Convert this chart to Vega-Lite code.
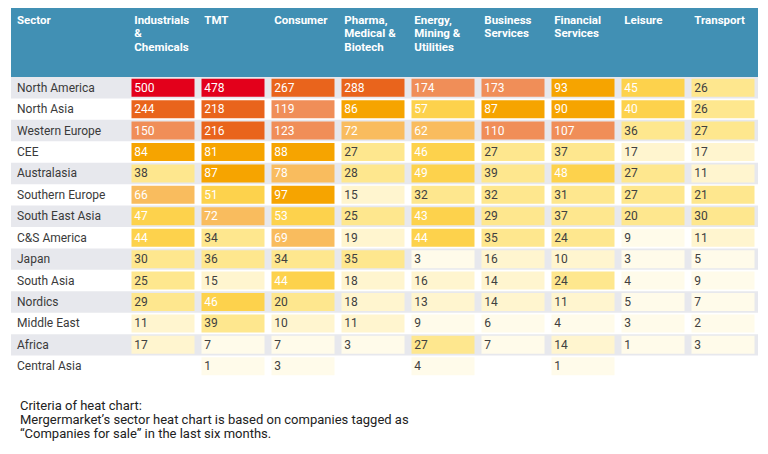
{
  "$schema": "https://vega.github.io/schema/vega-lite/v6.json",
  "padding": {"left": 11, "top": 8, "right": 0, "bottom": 0},
  "background": "white",
  "config": {"view": {"stroke": null}, "font": "Roboto", "concat": {"spacing": 0}},
  "title": {
    "text": ["Criteria of heat chart:", "Mergermarket’s sector heat chart is based on companies tagged as", "“Companies for sale” in the last six months."],
    "orient": "bottom", "anchor": "start", "fontSize": 13, "fontWeight": "normal", "color": "#222222",
    "lineHeight": 14, "offset": 23, "dx": 9, "font": "Roboto"
  },
  "datasets": {
    "sectors": [
      {"sector": "Industrials & Chemicals", "title": "Industrials\n&\nChemicals"},
      {"sector": "TMT", "title": "TMT"},
      {"sector": "Consumer", "title": "Consumer"},
      {"sector": "Pharma, Medical & Biotech", "title": "Pharma,\nMedical &\nBiotech"},
      {"sector": "Energy, Mining & Utilities", "title": "Energy,\nMining &\nUtilities"},
      {"sector": "Business Services", "title": "Business\nServices"},
      {"sector": "Financial Services", "title": "Financial\nServices"},
      {"sector": "Leisure", "title": "Leisure"},
      {"sector": "Transport", "title": "Transport"}
    ],
    "regions": [
      {"region": "North America"}, {"region": "North Asia"}, {"region": "Western Europe"}, {"region": "CEE"},
      {"region": "Australasia"}, {"region": "Southern Europe"}, {"region": "South East Asia"}, {"region": "C&S America"},
      {"region": "Japan"}, {"region": "South Asia"}, {"region": "Nordics"}, {"region": "Middle East"},
      {"region": "Africa"}, {"region": "Central Asia"}
    ],
    "cells": [
      {"region": "North America", "sector": "Industrials & Chemicals", "v": 500},
      {"region": "North America", "sector": "TMT", "v": 478},
      {"region": "North America", "sector": "Consumer", "v": 267},
      {"region": "North America", "sector": "Pharma, Medical & Biotech", "v": 288},
      {"region": "North America", "sector": "Energy, Mining & Utilities", "v": 174},
      {"region": "North America", "sector": "Business Services", "v": 173},
      {"region": "North America", "sector": "Financial Services", "v": 93},
      {"region": "North America", "sector": "Leisure", "v": 45},
      {"region": "North America", "sector": "Transport", "v": 26},
      {"region": "North Asia", "sector": "Industrials & Chemicals", "v": 244},
      {"region": "North Asia", "sector": "TMT", "v": 218},
      {"region": "North Asia", "sector": "Consumer", "v": 119},
      {"region": "North Asia", "sector": "Pharma, Medical & Biotech", "v": 86},
      {"region": "North Asia", "sector": "Energy, Mining & Utilities", "v": 57},
      {"region": "North Asia", "sector": "Business Services", "v": 87},
      {"region": "North Asia", "sector": "Financial Services", "v": 90},
      {"region": "North Asia", "sector": "Leisure", "v": 40},
      {"region": "North Asia", "sector": "Transport", "v": 26},
      {"region": "Western Europe", "sector": "Industrials & Chemicals", "v": 150},
      {"region": "Western Europe", "sector": "TMT", "v": 216},
      {"region": "Western Europe", "sector": "Consumer", "v": 123},
      {"region": "Western Europe", "sector": "Pharma, Medical & Biotech", "v": 72},
      {"region": "Western Europe", "sector": "Energy, Mining & Utilities", "v": 62},
      {"region": "Western Europe", "sector": "Business Services", "v": 110},
      {"region": "Western Europe", "sector": "Financial Services", "v": 107},
      {"region": "Western Europe", "sector": "Leisure", "v": 36},
      {"region": "Western Europe", "sector": "Transport", "v": 27},
      {"region": "CEE", "sector": "Industrials & Chemicals", "v": 84},
      {"region": "CEE", "sector": "TMT", "v": 81},
      {"region": "CEE", "sector": "Consumer", "v": 88},
      {"region": "CEE", "sector": "Pharma, Medical & Biotech", "v": 27},
      {"region": "CEE", "sector": "Energy, Mining & Utilities", "v": 46},
      {"region": "CEE", "sector": "Business Services", "v": 27},
      {"region": "CEE", "sector": "Financial Services", "v": 37},
      {"region": "CEE", "sector": "Leisure", "v": 17},
      {"region": "CEE", "sector": "Transport", "v": 17},
      {"region": "Australasia", "sector": "Industrials & Chemicals", "v": 38},
      {"region": "Australasia", "sector": "TMT", "v": 87},
      {"region": "Australasia", "sector": "Consumer", "v": 78},
      {"region": "Australasia", "sector": "Pharma, Medical & Biotech", "v": 28},
      {"region": "Australasia", "sector": "Energy, Mining & Utilities", "v": 49},
      {"region": "Australasia", "sector": "Business Services", "v": 39},
      {"region": "Australasia", "sector": "Financial Services", "v": 48},
      {"region": "Australasia", "sector": "Leisure", "v": 27},
      {"region": "Australasia", "sector": "Transport", "v": 11},
      {"region": "Southern Europe", "sector": "Industrials & Chemicals", "v": 66},
      {"region": "Southern Europe", "sector": "TMT", "v": 51},
      {"region": "Southern Europe", "sector": "Consumer", "v": 97},
      {"region": "Southern Europe", "sector": "Pharma, Medical & Biotech", "v": 15},
      {"region": "Southern Europe", "sector": "Energy, Mining & Utilities", "v": 32},
      {"region": "Southern Europe", "sector": "Business Services", "v": 32},
      {"region": "Southern Europe", "sector": "Financial Services", "v": 31},
      {"region": "Southern Europe", "sector": "Leisure", "v": 27},
      {"region": "Southern Europe", "sector": "Transport", "v": 21},
      {"region": "South East Asia", "sector": "Industrials & Chemicals", "v": 47},
      {"region": "South East Asia", "sector": "TMT", "v": 72},
      {"region": "South East Asia", "sector": "Consumer", "v": 53},
      {"region": "South East Asia", "sector": "Pharma, Medical & Biotech", "v": 25},
      {"region": "South East Asia", "sector": "Energy, Mining & Utilities", "v": 43},
      {"region": "South East Asia", "sector": "Business Services", "v": 29},
      {"region": "South East Asia", "sector": "Financial Services", "v": 37},
      {"region": "South East Asia", "sector": "Leisure", "v": 20},
      {"region": "South East Asia", "sector": "Transport", "v": 30},
      {"region": "C&S America", "sector": "Industrials & Chemicals", "v": 44},
      {"region": "C&S America", "sector": "TMT", "v": 34},
      {"region": "C&S America", "sector": "Consumer", "v": 69},
      {"region": "C&S America", "sector": "Pharma, Medical & Biotech", "v": 19},
      {"region": "C&S America", "sector": "Energy, Mining & Utilities", "v": 44},
      {"region": "C&S America", "sector": "Business Services", "v": 35},
      {"region": "C&S America", "sector": "Financial Services", "v": 24},
      {"region": "C&S America", "sector": "Leisure", "v": 9},
      {"region": "C&S America", "sector": "Transport", "v": 11},
      {"region": "Japan", "sector": "Industrials & Chemicals", "v": 30},
      {"region": "Japan", "sector": "TMT", "v": 36},
      {"region": "Japan", "sector": "Consumer", "v": 34},
      {"region": "Japan", "sector": "Pharma, Medical & Biotech", "v": 35},
      {"region": "Japan", "sector": "Energy, Mining & Utilities", "v": 3},
      {"region": "Japan", "sector": "Business Services", "v": 16},
      {"region": "Japan", "sector": "Financial Services", "v": 10},
      {"region": "Japan", "sector": "Leisure", "v": 3},
      {"region": "Japan", "sector": "Transport", "v": 5},
      {"region": "South Asia", "sector": "Industrials & Chemicals", "v": 25},
      {"region": "South Asia", "sector": "TMT", "v": 15},
      {"region": "South Asia", "sector": "Consumer", "v": 44},
      {"region": "South Asia", "sector": "Pharma, Medical & Biotech", "v": 18},
      {"region": "South Asia", "sector": "Energy, Mining & Utilities", "v": 16},
      {"region": "South Asia", "sector": "Business Services", "v": 14},
      {"region": "South Asia", "sector": "Financial Services", "v": 24},
      {"region": "South Asia", "sector": "Leisure", "v": 4},
      {"region": "South Asia", "sector": "Transport", "v": 9},
      {"region": "Nordics", "sector": "Industrials & Chemicals", "v": 29},
      {"region": "Nordics", "sector": "TMT", "v": 46},
      {"region": "Nordics", "sector": "Consumer", "v": 20},
      {"region": "Nordics", "sector": "Pharma, Medical & Biotech", "v": 18},
      {"region": "Nordics", "sector": "Energy, Mining & Utilities", "v": 13},
      {"region": "Nordics", "sector": "Business Services", "v": 14},
      {"region": "Nordics", "sector": "Financial Services", "v": 11},
      {"region": "Nordics", "sector": "Leisure", "v": 5},
      {"region": "Nordics", "sector": "Transport", "v": 7},
      {"region": "Middle East", "sector": "Industrials & Chemicals", "v": 11},
      {"region": "Middle East", "sector": "TMT", "v": 39},
      {"region": "Middle East", "sector": "Consumer", "v": 10},
      {"region": "Middle East", "sector": "Pharma, Medical & Biotech", "v": 11},
      {"region": "Middle East", "sector": "Energy, Mining & Utilities", "v": 9},
      {"region": "Middle East", "sector": "Business Services", "v": 6},
      {"region": "Middle East", "sector": "Financial Services", "v": 4},
      {"region": "Middle East", "sector": "Leisure", "v": 3},
      {"region": "Middle East", "sector": "Transport", "v": 2},
      {"region": "Africa", "sector": "Industrials & Chemicals", "v": 17},
      {"region": "Africa", "sector": "TMT", "v": 7},
      {"region": "Africa", "sector": "Consumer", "v": 7},
      {"region": "Africa", "sector": "Pharma, Medical & Biotech", "v": 3},
      {"region": "Africa", "sector": "Energy, Mining & Utilities", "v": 27},
      {"region": "Africa", "sector": "Business Services", "v": 7},
      {"region": "Africa", "sector": "Financial Services", "v": 14},
      {"region": "Africa", "sector": "Leisure", "v": 1},
      {"region": "Africa", "sector": "Transport", "v": 3},
      {"region": "Central Asia", "sector": "TMT", "v": 1},
      {"region": "Central Asia", "sector": "Consumer", "v": 3},
      {"region": "Central Asia", "sector": "Energy, Mining & Utilities", "v": 4},
      {"region": "Central Asia", "sector": "Financial Services", "v": 1}
    ]
  },
  "spacing": 0,
  "vconcat": [
    {
      "spacing": 0,
      "hconcat": [
        {
          "width": 117, "height": 69,
          "view": {"fill": "#4190b4", "stroke": null},
          "data": {"values": [{"h": "Sector"}]},
          "mark": {"type": "text", "align": "left", "baseline": "top", "dx": 6, "dy": 7, "fontWeight": "bold", "fontSize": 11.5, "color": "white"},
          "encoding": {
            "x": {"datum": 0, "type": "quantitative", "scale": {"domain": [0, 1]}, "axis": null},
            "y": {"datum": 1, "type": "quantitative", "scale": {"domain": [0, 1]}, "axis": null},
            "text": {"field": "h"}
          }
        },
        {
          "width": 630, "height": 69,
          "view": {"fill": "#4190b4", "stroke": null},
          "data": {"name": "sectors"},
          "mark": {"type": "text", "align": "left", "baseline": "top", "dy": 7, "fontWeight": "bold", "fontSize": 11.5, "color": "white", "lineBreak": "\n", "lineHeight": 13.3},
          "encoding": {
            "x": {"field": "sector", "type": "nominal", "bandPosition": 0.09, "axis": null,
                  "scale": {"type": "band", "domain": ["Industrials & Chemicals", "TMT", "Consumer", "Pharma, Medical & Biotech", "Energy, Mining & Utilities", "Business Services", "Financial Services", "Leisure", "Transport"], "paddingInner": 0, "paddingOuter": 0}},
            "y": {"datum": 1, "type": "quantitative", "scale": {"domain": [0, 1]}, "axis": null},
            "text": {"field": "title"}
          }
        }
      ]
    },
    {
      "spacing": 0,
      "hconcat": [
        {
          "width": 117, "height": 300,
          "data": {"name": "regions"},
          "layer": [
            {
              "transform": [{"window": [{"op": "row_number", "as": "rn"}]}, {"filter": "datum.rn % 2 == 1"}],
              "mark": {"type": "rect", "color": "#e7e8ed"},
              "encoding": {
                "y": {"field": "region", "type": "nominal", "axis": null,
                      "scale": {"domain": ["North America", "North Asia", "Western Europe", "CEE", "Australasia", "Southern Europe", "South East Asia", "C&S America", "Japan", "South Asia", "Nordics", "Middle East", "Africa", "Central Asia"], "paddingInner": 0, "paddingOuter": 0}}
              }
            },
            {
              "mark": {"type": "text", "align": "left", "baseline": "middle", "dx": 6, "fontSize": 12, "color": "#3a3a3a"},
              "encoding": {
                "x": {"datum": 0, "type": "quantitative", "scale": {"domain": [0, 1]}, "axis": null},
                "y": {"field": "region", "type": "nominal", "axis": null},
                "text": {"field": "region"}
              }
            }
          ]
        },
        {
          "width": 630, "height": 300,
          "layer": [
            {
              "data": {"name": "regions"},
              "transform": [{"window": [{"op": "row_number", "as": "rn"}]}, {"filter": "datum.rn % 2 == 1"}],
              "mark": {"type": "rect", "color": "#e7e8ed"},
              "encoding": {
                "y": {"field": "region", "type": "nominal", "axis": null,
                      "scale": {"domain": ["North America", "North Asia", "Western Europe", "CEE", "Australasia", "Southern Europe", "South East Asia", "C&S America", "Japan", "South Asia", "Nordics", "Middle East", "Africa", "Central Asia"], "paddingInner": 0, "paddingOuter": 0}}
              }
            },
            {
              "data": {"name": "cells"},
              "mark": {"type": "rect", "width": {"band": 0.9}, "height": {"band": 0.84}},
              "encoding": {
                "x": {"field": "sector", "type": "nominal", "axis": null,
                      "scale": {"domain": ["Industrials & Chemicals", "TMT", "Consumer", "Pharma, Medical & Biotech", "Energy, Mining & Utilities", "Business Services", "Financial Services", "Leisure", "Transport"], "paddingInner": 0, "paddingOuter": 0}},
                "y": {"field": "region", "type": "nominal", "axis": null},
                "fill": {"field": "v", "type": "quantitative", "legend": null,
                         "scale": {"type": "threshold", "domain": [10, 20, 40, 60, 80, 100, 200, 400],
                                   "range": ["#fffbea", "#fff5cf", "#fee78e", "#fdd24c", "#f9bc5e", "#f6a400", "#f08e58", "#e9641c", "#e3001b"]}}
              }
            },
            {
              "data": {"name": "cells"},
              "mark": {"type": "text", "align": "left", "baseline": "middle", "fontSize": 12},
              "encoding": {
                "x": {"field": "sector", "type": "nominal", "axis": null, "bandPosition": 0.09},
                "y": {"field": "region", "type": "nominal", "axis": null},
                "text": {"field": "v"},
                "color": {"condition": {"test": "datum.v >= 40", "value": "white"}, "value": "#404040"}
              }
            }
          ]
        }
      ]
    }
  ]
}
